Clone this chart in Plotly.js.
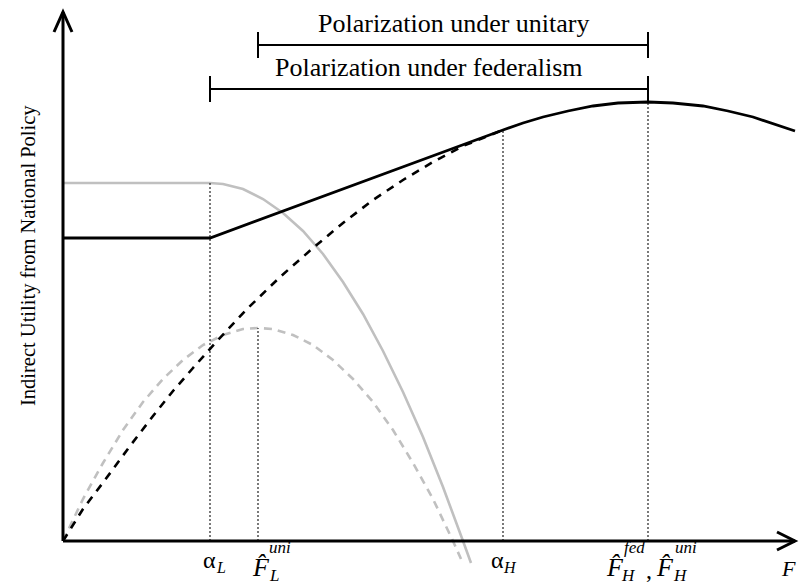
<!DOCTYPE html>
<html>
<head>
<meta charset="utf-8">
<script src="https://cdn.plot.ly/plotly-3.0.1.min.js"></script>
<style>html,body{margin:0;padding:0;background:#fff;}#chart{width:803px;height:586px;}</style>
</head>
<body>
<div id="chart"></div>
<script>
// Values (units: F on x, indirect utility on y)
const xBlackDashed = [0, 20, 42, 67, 90, 110, 130, 154, 184, 217, 250, 280, 310, 340, 370, 400, 420, 440];
const yBlackDashed = [0, 32, 61, 95, 125, 150, 173, 200, 232, 264, 293, 318, 341, 361, 379, 395, 403, 411];

const xBlackSolid = [0, 147, 440, 460, 480, 505, 530, 555, 585, 610, 640, 665, 690, 712, 732];
const yBlackSolid = [303, 303, 411, 418, 424, 430, 435, 438, 439, 438, 435, 430, 424, 417, 410];

const xGraySolid = [0, 147, 160, 180, 200, 220, 240, 260, 280, 300, 320, 340, 360, 380, 400, 408];
const yGraySolid = [358, 358, 357, 352, 342, 328, 310, 287, 259, 227, 190, 149, 104, 54, 0, -22];

const xGrayDashed = [0, 20, 40, 60, 80, 100, 120, 140, 160, 180, 195, 210, 230, 250, 270, 290, 310, 330, 350, 370, 390, 398];
const yGrayDashed = [0, 42, 78, 111, 139, 162, 181, 196, 206, 212, 213, 212, 206, 196, 181, 162, 139, 111, 78, 42, 0, -18];

// Reference points on the F axis and the height of their guide lines
const markerNames = ['alphaL', 'FLuni', 'alphaH', 'FH'];
const markerX = [147, 195, 440, 585];
const markerTop = [358, 213, 411, 439];

// Axis extent
const axisXmax = 732;
const axisYmax = 529;

const bracketTexts = ['Polarization under unitary', 'Polarization under federalism'];
const bracketFrom = [195, 147];
const bracketTo = [585, 585];
const bracketLevel = [496, 452];

const yTitle = 'Indirect Utility from National Policy';

const serif = 'Liberation Serif';
const BLACK = '#000000';
const GRAY = '#c0c0c0';

// guide lines built from marker arrays
const gx = [], gy = [];
markerX.forEach((x, i) => { gx.push(x, x, null); gy.push(0, markerTop[i], null); });

const traces = [
  {x: xGraySolid, y: yGraySolid, mode: 'lines', line: {color: GRAY, width: 2.6}, hoverinfo: 'skip'},
  {x: xGrayDashed, y: yGrayDashed, mode: 'lines', line: {color: GRAY, width: 2.6, dash: '8px,6px'}, hoverinfo: 'skip'},
  {x: gx, y: gy, mode: 'lines', line: {color: '#222', width: 1.2, dash: '2px,2px'}, hoverinfo: 'skip'},
  {x: xBlackDashed, y: yBlackDashed, mode: 'lines', line: {color: BLACK, width: 2.6, dash: '8px,7px'}, hoverinfo: 'skip'},
  {x: xBlackSolid, y: yBlackSolid, mode: 'lines', line: {color: BLACK, width: 2.8}, hoverinfo: 'skip'}
];

const shapes = [
  // axes
  {type: 'line', xref: 'x', yref: 'y', x0: 0, y0: 0, x1: axisXmax, y1: 0, line: {color: BLACK, width: 3}},
  {type: 'line', xref: 'x', yref: 'y', x0: 0, y0: 0, x1: 0, y1: axisYmax, line: {color: BLACK, width: 3}},
  {type: 'path', xref: 'x', yref: 'y', path: `M ${axisXmax - 18} 9 L ${axisXmax} 0 L ${axisXmax - 18} -9`, line: {color: BLACK, width: 3}},
  {type: 'path', xref: 'x', yref: 'y', path: `M -9 ${axisYmax - 20} L 0 ${axisYmax} L 9 ${axisYmax - 20}`, line: {color: BLACK, width: 3}}
];
bracketTexts.forEach((t, i) => {
  shapes.push({type: 'line', xref: 'x', yref: 'y', x0: bracketFrom[i], y0: bracketLevel[i], x1: bracketTo[i], y1: bracketLevel[i], line: {color: BLACK, width: 2}});
  shapes.push({type: 'line', xref: 'x', yref: 'y', x0: bracketFrom[i], y0: bracketLevel[i] - 13, x1: bracketFrom[i], y1: bracketLevel[i] + 13, line: {color: BLACK, width: 2}});
  shapes.push({type: 'line', xref: 'x', yref: 'y', x0: bracketTo[i], y0: bracketLevel[i] - 13, x1: bracketTo[i], y1: bracketLevel[i] + 13, line: {color: BLACK, width: 2}});
});

const ann = [];
bracketTexts.forEach((t, i) => {
  ann.push({x: (bracketFrom[i] + bracketTo[i]) / 2, y: bracketLevel[i] + 5, xref: 'x', yref: 'y', text: t, showarrow: false,
    xanchor: 'center', yanchor: 'bottom', font: {family: serif, size: 26, color: BLACK}});
});
function txt(x, y, text, size, xa, ya) {
  ann.push({x: x, y: y, xref: 'x', yref: 'y', text: text, showarrow: false, xanchor: xa || 'center', yanchor: ya || 'middle',
    font: {family: serif, size: size, color: BLACK}});
}
// y title
ann.push({x: -35, y: 285, xref: 'x', yref: 'y', text: yTitle, textangle: -90, showarrow: false,
  xanchor: 'center', yanchor: 'middle', font: {family: serif, size: 20.5, color: BLACK}});
// alpha_L
txt(markerX[0] - 1, -19, 'α', 24);
txt(markerX[0] + 11, -26, '<i>L</i>', 16);
// F hat L uni
txt(markerX[1] + 3, -26, '<i>F̂</i>', 26);
txt(markerX[1] + 22, -6, '<i>uni</i>', 17);
txt(markerX[1] + 16, -34, '<i>L</i>', 17);
// alpha_H
txt(markerX[2] - 6, -19, 'α', 24);
txt(markerX[2] + 7, -26, '<i>H</i>', 16);
// F hat H fed , F hat H uni
txt(markerX[3] - 33, -26, '<i>F̂</i>', 26);
txt(markerX[3] - 14, -6, '<i>fed</i>', 17);
txt(markerX[3] - 20, -34, '<i>H</i>', 17);
txt(markerX[3] + 1, -29, ',', 24);
txt(markerX[3] + 17, -26, '<i>F̂</i>', 26);
txt(markerX[3] + 38, -6, '<i>uni</i>', 17);
txt(markerX[3] + 32, -34, '<i>H</i>', 17);
// F axis label
txt(735, -42, '<i>F</i>', 22, 'right', 'bottom');

const layout = {
  width: 803, height: 586,
  margin: {l: 0, r: 0, t: 0, b: 0},
  paper_bgcolor: '#ffffff', plot_bgcolor: '#ffffff',
  showlegend: false,
  xaxis: {range: [-63, 740], visible: false, fixedrange: true},
  yaxis: {range: [-45, 541], visible: false, fixedrange: true},
  shapes: shapes,
  annotations: ann
};

Plotly.newPlot('chart', traces, layout, {displayModeBar: false, staticPlot: true});
</script>
</body>
</html>
